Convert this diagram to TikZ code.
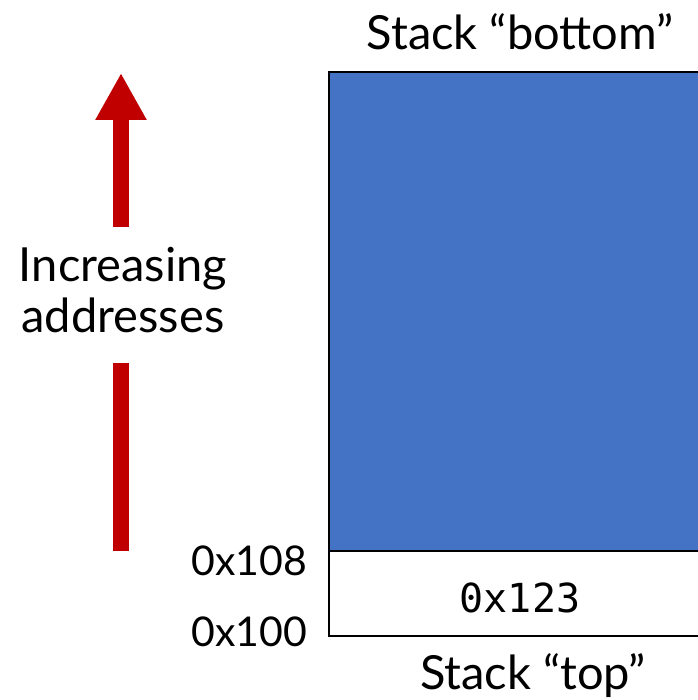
\documentclass[tikz,border=0pt]{standalone}
\usepackage{fontspec}
\setmainfont{Lato}
\setmonofont{DejaVu Sans Mono}
\usetikzlibrary{arrows.meta}
\definecolor{stackblue}{HTML}{4472C4}
\definecolor{arrowred}{HTML}{C00000}

\begin{document}
\begin{tikzpicture}[x=1pt,y=-1pt,
    lbl/.style={inner sep=0pt,anchor=base,font=\fontsize{47}{51}\selectfont},
    addr/.style={inner sep=0pt,anchor=base east,font=\fontsize{41}{48}\selectfont},
    cell/.style={draw=black,line width=2.5pt}]
  \useasboundingbox (0,0) rectangle (697,700);

  % the stack
  \fill[stackblue] (329,72) rectangle (705,551);
  \draw[cell] (705,72) -- (329,72) -- (329,636) -- (705,636);
  \draw[cell] (329,551) -- (705,551);

  \node[lbl] (bottom) at (520,50) {Stack “bottom”};
  \node[lbl] (top) at (533,689) {Stack “top”};
  \node[inner sep=0pt,anchor=base,font=\ttfamily\fontsize{40}{48}\selectfont] (val) at (520,612) {0x123};
  \node[addr] (a108) at (307,575) {0x108};
  \node[addr] (a100) at (307,646) {0x100};

  % direction of growth
  \node[lbl,align=center] (inc) at (123,332) {Increasing\\addresses};
  \coordinate (tip) at (121,73);
  \coordinate (shaft) at (121,227);
  \coordinate (low) at (121,363);
  \coordinate (base) at (121,551);
  \draw[arrowred,line width=16pt,-{Triangle[length=47pt,width=48pt]}] (shaft) -- (tip);
  \draw[arrowred,line width=16pt] (base) -- (low);
\end{tikzpicture}
\end{document}
